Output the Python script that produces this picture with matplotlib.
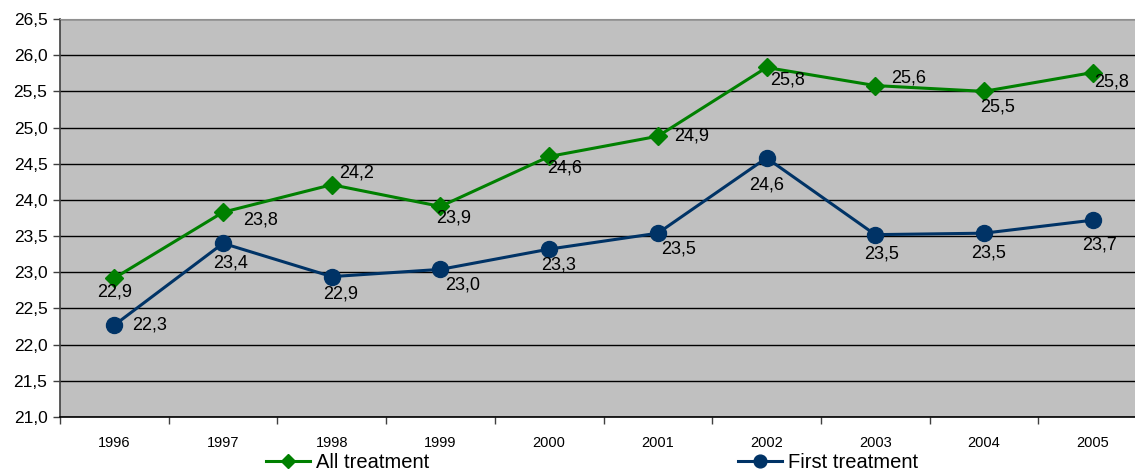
import matplotlib
matplotlib.use("Agg")
import matplotlib.pyplot as plt
from matplotlib.ticker import FixedLocator, NullFormatter, FixedFormatter

years = ["1996", "1997", "1998", "1999", "2000", "2001", "2002", "2003", "2004", "2005"]
all_treatment = [22.92, 23.83, 24.21, 23.91, 24.60, 24.88, 25.83, 25.58, 25.50, 25.76]
first_treatment = [22.27, 23.40, 22.94, 23.04, 23.32, 23.54, 24.58, 23.52, 23.54, 23.72]
y_ticks = [21.0, 21.5, 22.0, 22.5, 23.0, 23.5, 24.0, 24.5, 25.0, 25.5, 26.0, 26.5]

# label offsets in pixels (dx, dy), style only
all_offsets = [(0, -14), (38, -8), (25, 12), (13, -12), (15, -12), (34, 0), (21, -13), (33, 8), (14, -16), (19, -9)]
first_offsets = [(35, 0), (8, -20), (9, -17), (22, -16), (9, -16), (21, -16), (0, -27), (6, -19), (5, -20), (7, -25)]

green = "#008000"
navy = "#003366"
font = "Liberation Sans"

fig = plt.figure(figsize=(11.35, 4.75), dpi=100)
W, H = 1135, 475
left, right, top, bottom = 60, 1147, 19, 417
ax = fig.add_axes([left / W, 1 - bottom / H, (right - left) / W, (bottom - top) / H])
ax.set_facecolor("#C0C0C0")

x = list(range(len(years)))
ax.plot(x, all_treatment, color=green, lw=2.2, marker="D", ms=9, mfc=green, mec=green,
        label="All treatment", zorder=4)
ax.plot(x, first_treatment, color=navy, lw=2.2, marker="o", ms=11.5, mfc=navy, mec=navy,
        label="First treatment", zorder=4)

def fmt(v):
    return f"{v:.1f}".replace(".", ",")

for xi, v, (dx, dy) in zip(x, all_treatment, all_offsets):
    ax.annotate(fmt(v), (xi, v), xytext=(dx, dy), textcoords="offset pixels",
                ha="center", va="center", fontsize=13, family=font, color="black", zorder=5)
for xi, v, (dx, dy) in zip(x, first_treatment, first_offsets):
    ax.annotate(fmt(v), (xi, v), xytext=(dx, dy), textcoords="offset pixels",
                ha="center", va="center", fontsize=13, family=font, color="black", zorder=5)

ax.set_xlim(-0.5, len(years) - 0.5)
ax.set_ylim(21.0, 26.5)
ax.set_yticks(y_ticks)
ax.set_yticklabels([fmt(t) for t in y_ticks], family=font, fontsize=12.5)
ax.yaxis.grid(True, color="black", lw=1.0)
ax.set_axisbelow(True)

ax.xaxis.set_major_locator(FixedLocator([i - 0.5 for i in range(len(years) + 1)]))
ax.xaxis.set_major_formatter(NullFormatter())
ax.xaxis.set_minor_locator(FixedLocator(x))
ax.xaxis.set_minor_formatter(FixedFormatter(years))
ax.tick_params(axis="x", which="major", direction="out", length=5, width=1, color="#404040")
ax.tick_params(axis="x", which="minor", length=0, pad=14, labelsize=10.5)
for lab in ax.get_xticklabels(minor=True):
    lab.set_family(font)
ax.tick_params(axis="y", direction="out", length=5, width=1, color="#404040", pad=4)

ax.spines["top"].set_color("#909090")
ax.spines["right"].set_visible(False)
ax.spines["left"].set_color("#404040")
ax.spines["bottom"].set_color("black")
ax.spines["left"].set_linewidth(1.2)
ax.spines["bottom"].set_linewidth(1.2)

leg = fig.legend(loc="center", bbox_to_anchor=(0.5216, 0.026), ncol=2, frameon=False,
                 prop={"family": font, "size": 14.5}, columnspacing=15.3, handlelength=2.2,
                 handletextpad=0.3, markerscale=0.8, borderpad=0.0)

fig.savefig("out.png", dpi=100)
